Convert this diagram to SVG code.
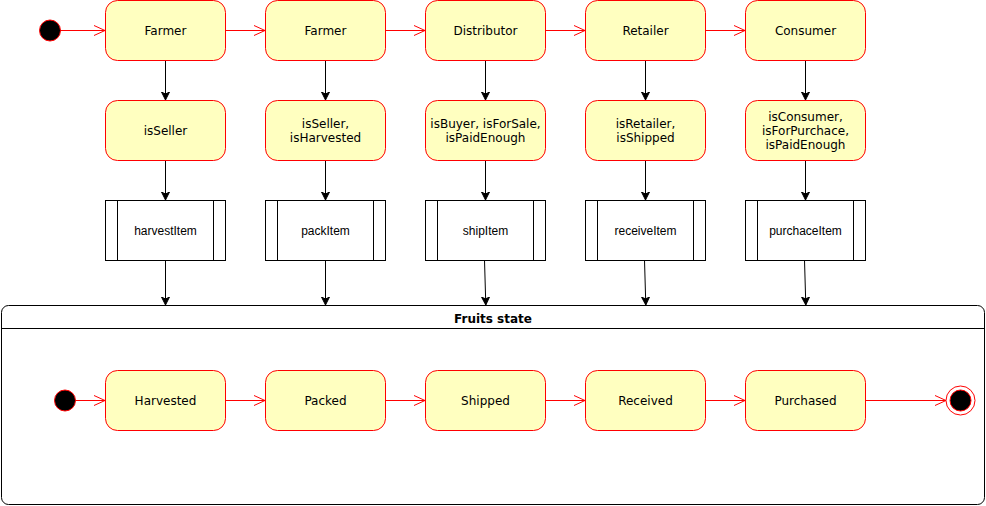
<svg xmlns="http://www.w3.org/2000/svg" width="986" height="506" viewBox="0 0 986 506">
  <style>
    .state { fill: #ffffc0; stroke: #ff0000; stroke-width: 1; }
    .proc { fill: #ffffff; stroke: #000000; stroke-width: 1; }
    .lbl { font-family: "DejaVu Sans", Verdana, sans-serif; font-size: 12px; fill: #000; text-anchor: middle; }
    .plbl { font-family: "Liberation Sans", Arial, Helvetica, sans-serif; font-size: 12px; fill: #000; text-anchor: middle; }
    .red { stroke: #ff0000; stroke-width: 1; fill: none; }
    .blk { stroke: #000000; stroke-width: 1; fill: none; }
  </style>
  <defs>
    <marker id="openRed" markerWidth="14" markerHeight="12" refX="12" refY="6" orient="auto" markerUnits="userSpaceOnUse">
      <path d="M1,1 L12,6 L1,11" fill="none" stroke="#ff0000" stroke-width="1"/>
    </marker>
    <marker id="blockBlk" markerWidth="10" markerHeight="10" refX="8" refY="5" orient="auto" markerUnits="userSpaceOnUse">
      <path d="M0,1 L8,5 L0,9 L2,5 Z" fill="#000" stroke="#000" stroke-width="1"/>
    </marker>
  </defs>

  <!-- composite state container -->
  <g id="fruits-state">
    <rect x="1.5" y="305.5" width="983" height="199" rx="7" ry="7" fill="#ffffff" stroke="#000" stroke-width="1"/>
    <line x1="1.5" y1="328.5" x2="984.5" y2="328.5" stroke="#000" stroke-width="1"/>
    <text x="493" y="323" font-family="'DejaVu Sans', Verdana, sans-serif" font-size="12" font-weight="bold" text-anchor="middle">Fruits state</text>
  </g>

  <!-- connectors -->
  <g id="connectors">
    <!-- top flow -->
    <line class="red" x1="60" y1="30.5" x2="105" y2="30.5" marker-end="url(#openRed)"/>
    <line class="red" x1="225" y1="30.5" x2="265" y2="30.5" marker-end="url(#openRed)"/>
    <line class="red" x1="385" y1="30.5" x2="425" y2="30.5" marker-end="url(#openRed)"/>
    <line class="red" x1="545" y1="30.5" x2="585" y2="30.5" marker-end="url(#openRed)"/>
    <line class="red" x1="705" y1="30.5" x2="745" y2="30.5" marker-end="url(#openRed)"/>
    <!-- actor to guard -->
    <line class="blk" x1="165.5" y1="60" x2="165.5" y2="100" marker-end="url(#blockBlk)"/>
    <line class="blk" x1="325.5" y1="60" x2="325.5" y2="100" marker-end="url(#blockBlk)"/>
    <line class="blk" x1="485.5" y1="60" x2="485.5" y2="100" marker-end="url(#blockBlk)"/>
    <line class="blk" x1="645.5" y1="60" x2="645.5" y2="100" marker-end="url(#blockBlk)"/>
    <line class="blk" x1="805.5" y1="60" x2="805.5" y2="100" marker-end="url(#blockBlk)"/>
    <!-- guard to action -->
    <line class="blk" x1="165.5" y1="160" x2="165.5" y2="200" marker-end="url(#blockBlk)"/>
    <line class="blk" x1="325.5" y1="160" x2="325.5" y2="200" marker-end="url(#blockBlk)"/>
    <line class="blk" x1="485.5" y1="160" x2="485.5" y2="200" marker-end="url(#blockBlk)"/>
    <line class="blk" x1="645.5" y1="160" x2="645.5" y2="200" marker-end="url(#blockBlk)"/>
    <line class="blk" x1="805.5" y1="160" x2="805.5" y2="200" marker-end="url(#blockBlk)"/>
    <!-- action to state machine -->
    <line class="blk" x1="165.5" y1="260" x2="165.5" y2="305" marker-end="url(#blockBlk)"/>
    <line class="blk" x1="325.5" y1="260" x2="325.5" y2="305" marker-end="url(#blockBlk)"/>
    <line class="blk" x1="484.5" y1="260" x2="485.8" y2="305" marker-end="url(#blockBlk)"/>
    <line class="blk" x1="644.5" y1="260" x2="645.8" y2="305" marker-end="url(#blockBlk)"/>
    <line class="blk" x1="804.5" y1="260" x2="805.8" y2="305" marker-end="url(#blockBlk)"/>
    <!-- fruit lifecycle -->
    <line class="red" x1="75" y1="400.5" x2="105" y2="400.5" marker-end="url(#openRed)"/>
    <line class="red" x1="225" y1="400.5" x2="265" y2="400.5" marker-end="url(#openRed)"/>
    <line class="red" x1="385" y1="400.5" x2="425" y2="400.5" marker-end="url(#openRed)"/>
    <line class="red" x1="545" y1="400.5" x2="585" y2="400.5" marker-end="url(#openRed)"/>
    <line class="red" x1="705" y1="400.5" x2="745" y2="400.5" marker-end="url(#openRed)"/>
    <line class="red" x1="865" y1="400.5" x2="946" y2="400.5" marker-end="url(#openRed)"/>
  </g>

  <!-- top initial -->
  <g id="start-top"><circle cx="50" cy="30.5" r="10.5" fill="#000" stroke="#ff0000" stroke-width="1"/></g>

  <!-- actors -->
  <g id="farmer1"><rect class="state" x="105.5" y="0.5" width="120" height="60" rx="12"/><text class="lbl" x="165.5" y="35">Farmer</text></g>
  <g id="farmer2"><rect class="state" x="265.5" y="0.5" width="120" height="60" rx="12"/><text class="lbl" x="325.5" y="35">Farmer</text></g>
  <g id="distributor"><rect class="state" x="425.5" y="0.5" width="120" height="60" rx="12"/><text class="lbl" x="485.5" y="35">Distributor</text></g>
  <g id="retailer"><rect class="state" x="585.5" y="0.5" width="120" height="60" rx="12"/><text class="lbl" x="645.5" y="35">Retailer</text></g>
  <g id="consumer"><rect class="state" x="745.5" y="0.5" width="120" height="60" rx="12"/><text class="lbl" x="805.5" y="35">Consumer</text></g>

  <!-- guards -->
  <g id="guard1"><rect class="state" x="105.5" y="100.5" width="120" height="60" rx="12"/><text class="lbl" x="165.5" y="135">isSeller</text></g>
  <g id="guard2"><rect class="state" x="265.5" y="100.5" width="120" height="60" rx="12"/><text class="lbl" x="325.5" y="128">isSeller,</text><text class="lbl" x="325.5" y="142">isHarvested</text></g>
  <g id="guard3"><rect class="state" x="425.5" y="100.5" width="120" height="60" rx="12"/><text class="lbl" x="485.5" y="128">isBuyer, isForSale,</text><text class="lbl" x="485.5" y="142">isPaidEnough</text></g>
  <g id="guard4"><rect class="state" x="585.5" y="100.5" width="120" height="60" rx="12"/><text class="lbl" x="645.5" y="128">isRetailer,</text><text class="lbl" x="645.5" y="142">isShipped</text></g>
  <g id="guard5"><rect class="state" x="745.5" y="100.5" width="120" height="60" rx="12"/><text class="lbl" x="805.5" y="121">isConsumer,</text><text class="lbl" x="805.5" y="135">isForPurchace,</text><text class="lbl" x="805.5" y="149">isPaidEnough</text></g>

  <!-- actions -->
  <g id="harvestItem"><rect class="proc" x="105.5" y="200.5" width="120" height="60"/><line class="blk" x1="117.5" y1="200.5" x2="117.5" y2="260.5"/><line class="blk" x1="213.5" y1="200.5" x2="213.5" y2="260.5"/><text class="plbl" x="165.5" y="235">harvestItem</text></g>
  <g id="packItem"><rect class="proc" x="265.5" y="200.5" width="120" height="60"/><line class="blk" x1="277.5" y1="200.5" x2="277.5" y2="260.5"/><line class="blk" x1="373.5" y1="200.5" x2="373.5" y2="260.5"/><text class="plbl" x="325.5" y="235">packItem</text></g>
  <g id="shipItem"><rect class="proc" x="425.5" y="200.5" width="120" height="60"/><line class="blk" x1="437.5" y1="200.5" x2="437.5" y2="260.5"/><line class="blk" x1="533.5" y1="200.5" x2="533.5" y2="260.5"/><text class="plbl" x="485.5" y="235">shipItem</text></g>
  <g id="receiveItem"><rect class="proc" x="585.5" y="200.5" width="120" height="60"/><line class="blk" x1="597.5" y1="200.5" x2="597.5" y2="260.5"/><line class="blk" x1="693.5" y1="200.5" x2="693.5" y2="260.5"/><text class="plbl" x="645.5" y="235">receiveItem</text></g>
  <g id="purchaceItem"><rect class="proc" x="745.5" y="200.5" width="120" height="60"/><line class="blk" x1="757.5" y1="200.5" x2="757.5" y2="260.5"/><line class="blk" x1="853.5" y1="200.5" x2="853.5" y2="260.5"/><text class="plbl" x="805.5" y="235">purchaceItem</text></g>

  <!-- fruit states -->
  <g id="start-fruit"><circle cx="65" cy="400.5" r="10.5" fill="#000" stroke="#ff0000" stroke-width="1"/></g>
  <g id="harvested"><rect class="state" x="105.5" y="370.5" width="120" height="60" rx="12"/><text class="lbl" x="165.5" y="405">Harvested</text></g>
  <g id="packed"><rect class="state" x="265.5" y="370.5" width="120" height="60" rx="12"/><text class="lbl" x="325.5" y="405">Packed</text></g>
  <g id="shipped"><rect class="state" x="425.5" y="370.5" width="120" height="60" rx="12"/><text class="lbl" x="485.5" y="405">Shipped</text></g>
  <g id="received"><rect class="state" x="585.5" y="370.5" width="120" height="60" rx="12"/><text class="lbl" x="645.5" y="405">Received</text></g>
  <g id="purchased"><rect class="state" x="745.5" y="370.5" width="120" height="60" rx="12"/><text class="lbl" x="805.5" y="405">Purchased</text></g>
  <g id="end-fruit">
    <circle cx="960.5" cy="400.5" r="14.5" fill="#ffffff" stroke="#ff0000" stroke-width="1"/>
    <circle cx="960.5" cy="400.5" r="10.5" fill="#000" stroke="#ff0000" stroke-width="1"/>
  </g>
</svg>
